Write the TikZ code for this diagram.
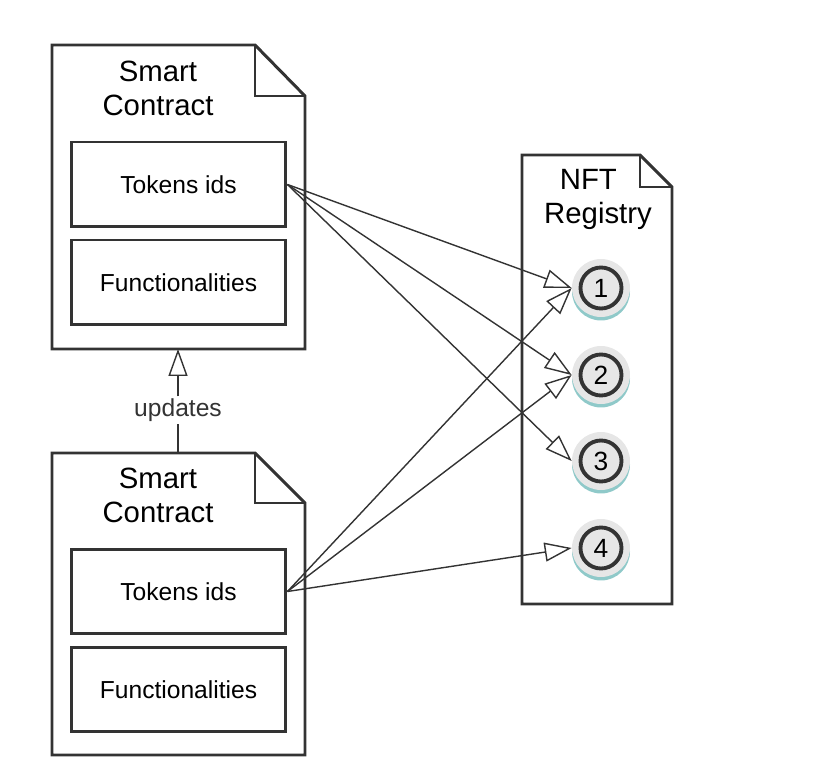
\documentclass[tikz,border=0pt]{standalone}
\usepackage{fontspec}
\setmainfont{Liberation Sans}
\usetikzlibrary{arrows.meta,positioning}
\definecolor{inkgray}{HTML}{333333}
\definecolor{tokfill}{HTML}{E6E6E6}
\definecolor{tokshadow}{HTML}{8FC9C9}
\tikzstyle{doc} = [draw=inkgray, line width=1.7pt, line join=miter]
\tikzstyle{part} = [draw=inkgray, line width=1.7pt, minimum width=4.3cm, minimum height=1.7cm, font=\fontsize{14}{16}\selectfont]
\tikzstyle{title} = [align=center, font=\fontsize{16.7}{19.4}\selectfont]
\tikzstyle{token} = [circle, fill=tokfill, minimum size=1.16cm, inner sep=0pt, font=\fontsize{15}{17}\selectfont]
\tikzstyle{link} = [draw=inkgray, line width=0.8pt, -{Triangle[open, length=0.54cm, width=0.38cm]}]

\begin{document}
\begin{tikzpicture}[x=0.02cm, y=-0.02cm]
\useasboundingbox (0,0) rectangle (819,780);
% upper contract
\draw[doc] (52,45) -- (255,45) -- (305,96) -- (305,349) -- (52,349) -- cycle;
\draw[doc] (255,45) -- (255,96) -- (305,96);
\node[title] (scA) at (158,88) {Smart\\Contract};
\node[part] (tokA) at (178.5,184.5) {Tokens ids};
\node[part] (funA) at (178.5,282.5) {Functionalities};
\coordinate (docAbot) at (178,349);
% lower contract
\draw[doc] (52,453) -- (255,453) -- (305,503) -- (305,755) -- (52,755) -- cycle;
\draw[doc] (255,453) -- (255,503) -- (305,503);
\node[title] (scB) at (158,495) {Smart\\Contract};
\node[part] (tokB) at (178.5,591.5) {Tokens ids};
\node[part] (funB) at (178.5,689.5) {Functionalities};
\coordinate (docBtop) at (178,453);
% registry
\draw[doc] (522,155) -- (640,155) -- (672,187) -- (672,604) -- (522,604) -- cycle;
\draw[doc] (640,155) -- (640,187) -- (672,187);
\node[title] (reg) at (598,199) {NFT\hspace*{11pt}\\Registry};
\foreach \i/\y in {1/288,2/375,3/461,4/548}{
  \fill[tokshadow] (601,\y+3.5) circle[radius=29];
  \node[token] (t\i) at (601,\y) {\i};
  \draw[inkgray, line width=2.2pt] (t\i.center) circle[radius=20.5];
}
% links
\draw[link] (tokA.east) -- (t1.west);
\draw[link] (tokA.east) -- (t2.west);
\draw[link] (tokA.east) -- (t3.west);
\draw[link] (tokB.east) -- (t1.west);
\draw[link] (tokB.east) -- (t2.west);
\draw[link] (tokB.east) -- (t4.west);
\node[fill=white, text=inkgray, inner sep=1pt, font=\fontsize{14}{16}\selectfont] (upd) at (178,410) {updates};
\draw[draw=inkgray, line width=0.8pt] (docBtop) -- (upd.south);
\draw[link] (upd.north) -- (docAbot);
\end{tikzpicture}
\end{document}
